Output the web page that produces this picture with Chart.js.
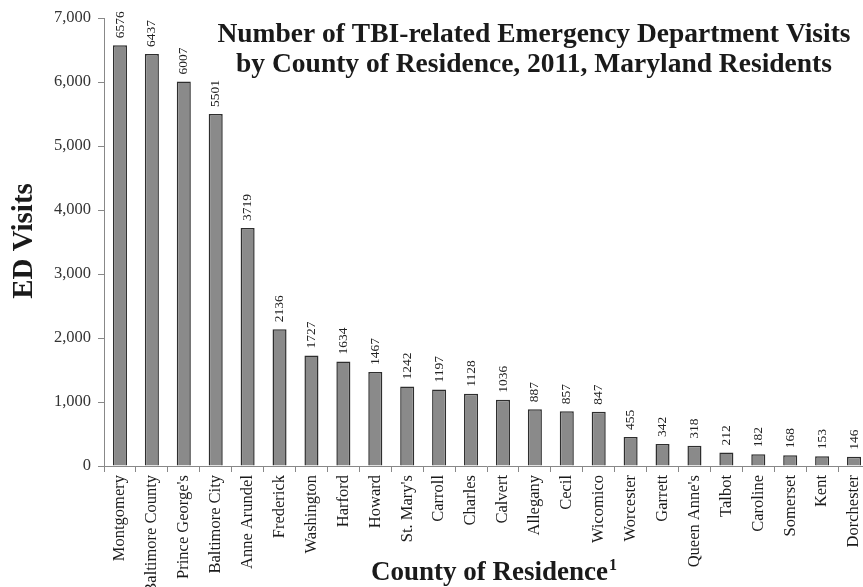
<!DOCTYPE html>
<html><head><meta charset="utf-8">
<script src="https://cdn.jsdelivr.net/npm/chart.js@4"></script>
<style>html,body{margin:0;padding:0;background:#fff;overflow:hidden;width:863px;height:587px}</style></head>
<body>
<canvas id="c" width="870" height="587"></canvas>
<script>
const counties = ["Montgomery","Baltimore County","Prince George's","Baltimore City","Anne Arundel","Frederick","Washington","Harford","Howard","St. Mary's","Carroll","Charles","Calvert","Allegany","Cecil","Wicomico","Worcester","Garrett","Queen Anne's","Talbot","Caroline","Somerset","Kent","Dorchester"];
const visits = [6576,6437,6007,5501,3719,2136,1727,1634,1467,1242,1197,1128,1036,887,857,847,455,342,318,212,182,168,153,146];
const yTickValues = [0,1000,2000,3000,4000,5000,6000,7000];
const titleLines = ["Number of TBI-related Emergency Department Visits","by County of Residence, 2011, Maryland Residents"];
const yTitle = "ED Visits";
const xTitle = "County of Residence";
const xTitleSup = "1";

const SERIF = '"Liberation Serif","Times New Roman",serif';
const TXT = '#1a1a1a';

const overlay = {
  id: 'overlay',
  afterDatasetsDraw(chart) {
    const ctx = chart.ctx;
    const meta = chart.getDatasetMeta(0);
    ctx.save();
    ctx.fillStyle = '#222';
    ctx.font = '13.5px ' + SERIF;
    ctx.textAlign = 'left';
    ctx.textBaseline = 'middle';
    meta.data.forEach((bar, i) => {
      ctx.save();
      ctx.translate(bar.x, bar.y - 7);
      ctx.rotate(-Math.PI / 2);
      ctx.fillText(String(visits[i]), 0, 0);
      ctx.restore();
    });
    ctx.restore();
  },
  afterDraw(chart) {
    const ctx = chart.ctx;
    ctx.save();
    ctx.fillStyle = TXT;
    ctx.textAlign = 'center';
    ctx.textBaseline = 'alphabetic';
    ctx.font = 'bold 27.5px ' + SERIF;
    ctx.fillText(titleLines[0], 534, 42);
    ctx.fillText(titleLines[1], 534, 72);
    // y title
    ctx.save();
    ctx.translate(32, 241);
    ctx.rotate(-Math.PI / 2);
    ctx.font = 'bold 29px ' + SERIF;
    ctx.fillText(yTitle, 0, 0);
    ctx.restore();
    // x title with superscript
    ctx.font = 'bold 27px ' + SERIF;
    const w = ctx.measureText(xTitle).width;
    ctx.font = 'bold 16px ' + SERIF;
    const ws = ctx.measureText(xTitleSup).width;
    const total = w + ws + 1;
    const x0 = 494 - total / 2;
    ctx.textAlign = 'left';
    ctx.font = 'bold 27px ' + SERIF;
    ctx.fillText(xTitle, x0, 580);
    ctx.font = 'bold 16px ' + SERIF;
    ctx.fillText(xTitleSup, x0 + w + 1, 570);
    ctx.restore();
  }
};

const bg = {
  id: 'bg',
  beforeDraw(chart) {
    const ctx = chart.ctx;
    ctx.save();
    ctx.fillStyle = '#fff';
    ctx.fillRect(0, 0, chart.width, chart.height);
    ctx.restore();
  }
};

new Chart(document.getElementById('c'), {
  type: 'bar',
  data: {
    labels: counties,
    datasets: [{
      data: visits,
      backgroundColor: '#8a8a8a',
      borderColor: '#2e2e2e',
      borderWidth: 1.5,
      barPercentage: 0.44,
      categoryPercentage: 1.0
    }]
  },
  options: {
    responsive: false,
    animation: false,
    devicePixelRatio: 1,
    layout: { padding: { top: 18, right: 0, left: 0, bottom: 0 } },
    plugins: { legend: { display: false }, tooltip: { enabled: false }, title: { display: false } },
    scales: {
      x: {
        type: 'category',
        offset: true,
        grid: { display: true, drawOnChartArea: false, drawTicks: true, tickLength: 6, color: '#888', offset: true },
        border: { color: '#888', width: 1 },
        ticks: { maxRotation: 90, minRotation: 90, autoSkip: false, color: TXT, padding: 3, font: { family: SERIF, size: 16.5 } },
        afterFit(scale) { scale.height = 121; scale.paddingRight = 0; scale.paddingLeft = 0; }
      },
      y: {
        min: 0, max: 7000,
        afterBuildTicks(scale) { scale.ticks = yTickValues.map(v => ({ value: v })); },
        grid: { display: true, drawOnChartArea: false, drawTicks: true, tickLength: 6, color: '#888' },
        border: { color: '#888', width: 1 },
        ticks: { color: '#333', padding: 7, font: { family: SERIF, size: 16.5 },
          callback: v => v.toLocaleString('en-US') },
        afterFit(scale) { scale.width = 104; }
      }
    }
  },
  plugins: [bg, overlay]
});
</script>
</body></html>
